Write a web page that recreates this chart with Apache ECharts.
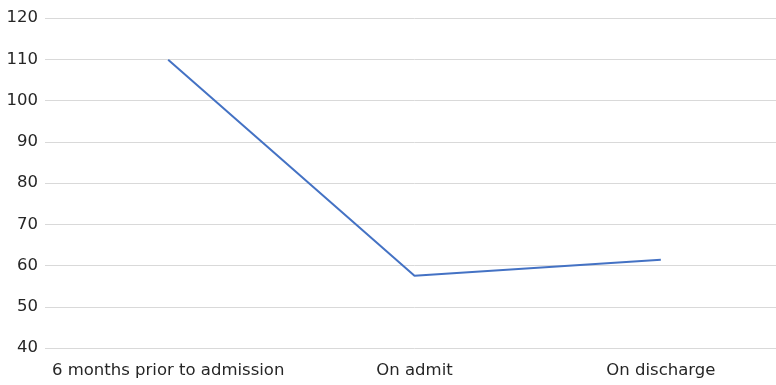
<!DOCTYPE html>
<html>
<head>
<meta charset="utf-8">
<script src="https://cdn.jsdelivr.net/npm/echarts@6/dist/echarts.min.js"></script>
<style>
  html, body { margin: 0; padding: 0; background: #fff; overflow: hidden; }
  /* the plot area runs a little past the right edge of the window */
  #chart { width: 784px; height: 385px; }
</style>
</head>
<body>
<div id="chart"></div>
<script>
// Time points along the x axis
const categories = ['6 months prior to admission', 'On admit', 'On discharge'];
// Measured values at each time point
const values = [109.9, 57.5, 61.4];
// Value axis range and step
const yMin = 40;
const yMax = 120;
const yStep = 10;

const chart = echarts.init(document.getElementById('chart'), null, { renderer: 'canvas' });
const font = '"DejaVu Sans", Verdana, sans-serif';

chart.setOption({
  animation: false,
  backgroundColor: '#ffffff',
  grid: { left: 45, right: 0, top: 18, height: 330, containLabel: false },
  xAxis: {
    type: 'category',
    data: categories,
    boundaryGap: true,
    axisLine: { show: false },
    axisTick: { show: false },
    axisLabel: { color: '#262626', fontFamily: font, fontSize: 16.5, margin: 14, interval: 0 }
  },
  yAxis: {
    type: 'value',
    min: yMin,
    max: yMax,
    interval: yStep,
    axisLine: { show: false },
    axisTick: { show: false },
    axisLabel: { color: '#262626', fontFamily: font, fontSize: 16.5, margin: 7 },
    splitLine: { lineStyle: { color: '#d9d9d9', width: 1 } }
  },
  series: [{
    type: 'line',
    data: values,
    symbol: 'none',
    lineStyle: { color: '#4472c4', width: 2 },
    itemStyle: { color: '#4472c4' }
  }]
});
</script>
</body>
</html>
